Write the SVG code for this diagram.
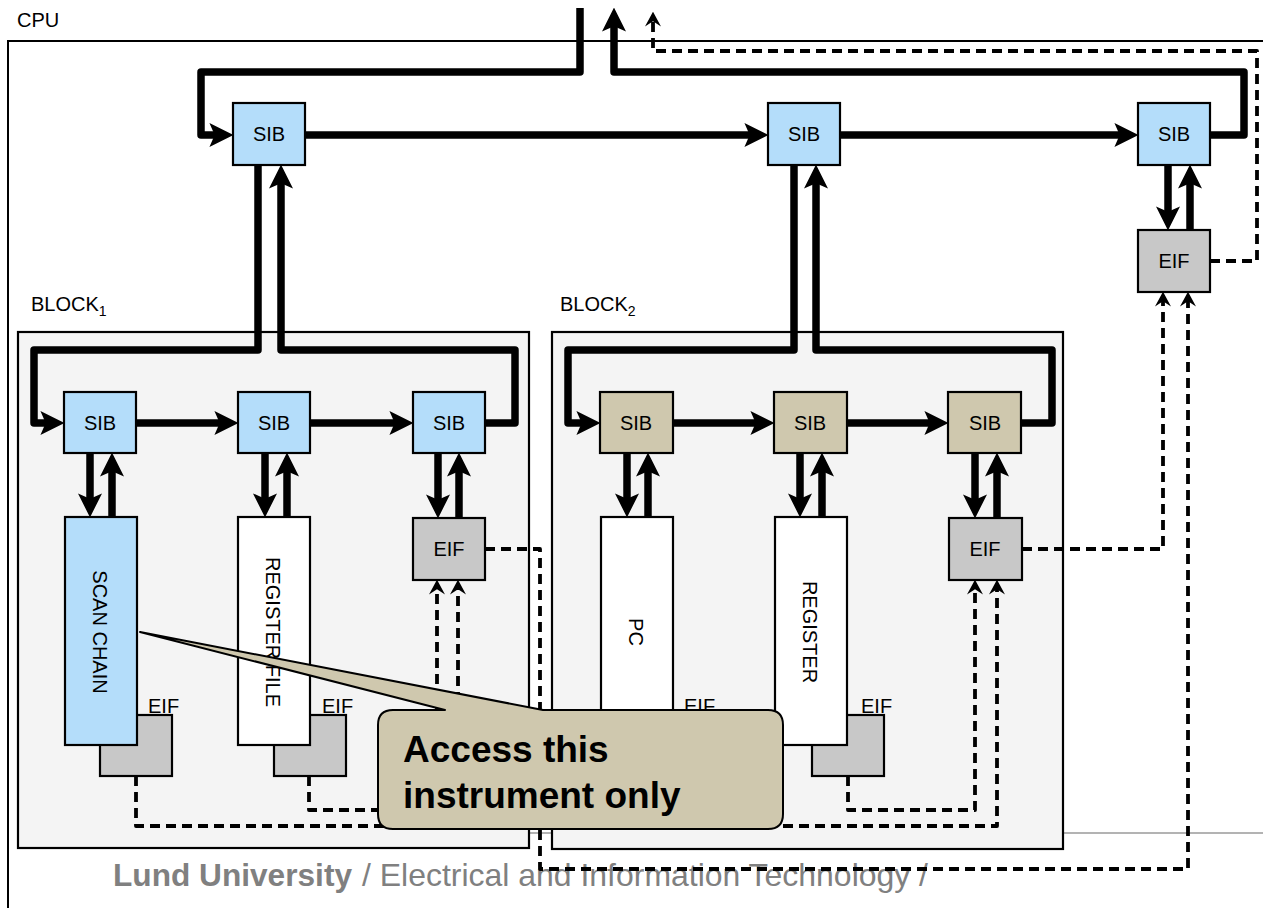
<svg xmlns="http://www.w3.org/2000/svg" width="1263" height="908" viewBox="0 0 1263 908">
<style>
text{font-family:"Liberation Sans",Arial,sans-serif;fill:#000}
.lbl{font-size:20px}
.c{text-anchor:middle}
.box{stroke:#000;stroke-width:2.2}
.blue{fill:#b4ddfa}
.tan{fill:#cfc8ae}
.gray{fill:#c8c8c8}
.white{fill:#fff}
.blk{fill:#f4f4f4;stroke:#000;stroke-width:2.2}
.bus{fill:none;stroke:#000;stroke-width:7.5;stroke-linejoin:round}
.arr{marker-end:url(#ah)}
.dash{fill:none;stroke:#000;stroke-width:3.8;stroke-dasharray:10 6;stroke-linejoin:round}
.darr{marker-end:url(#dh)}
.foot{font-size:32px;fill:#808080}
</style>
<defs>
<marker id="ah" markerUnits="userSpaceOnUse" markerWidth="24" markerHeight="24" viewBox="0 0 23 23" refX="13" refY="11.5" orient="auto"><path d="M0,0 L23,11.5 L0,23 L5,11.5 Z" fill="#000"/></marker>
<marker id="dh" markerUnits="userSpaceOnUse" markerWidth="15" markerHeight="16" viewBox="0 0 14 15" refX="9" refY="7.5" orient="auto"><path d="M0,0 L14,7.5 L0,15 L5,7.5 Z" fill="#000"/></marker>
</defs>
<rect width="1263" height="908" fill="#fff"/>

<g id="cpu">
<text class="lbl" x="17" y="27">CPU</text>
<path d="M8,908 V41 H1263" fill="none" stroke="#000" stroke-width="2"/>
</g>
<line x1="529" y1="833" x2="1263" y2="833" stroke="#b3b3b3" stroke-width="2"/>

<g id="block1">
<rect class="blk" x="18" y="332" width="511" height="516"/>
<text class="lbl" x="31" y="311">BLOCK<tspan font-size="14" dy="5">1</tspan></text>
</g>
<g id="block2">
<rect class="blk" x="552" y="332" width="511" height="517"/>
<text class="lbl" x="560" y="311">BLOCK<tspan font-size="14" dy="5">2</tspan></text>
</g>

<g id="eif-scan">
<rect class="box gray" x="100" y="715" width="72" height="61"/>
<text class="lbl" x="148" y="713">EIF</text>
</g>
<g id="eif-regfile">
<rect class="box gray" x="274" y="715" width="72" height="61"/>
<text class="lbl" x="322" y="713">EIF</text>
</g>
<g id="eif-pc">
<rect class="box gray" x="637" y="715" width="72" height="61"/>
<text class="lbl" x="684" y="713">EIF</text>
</g>
<g id="eif-register">
<rect class="box gray" x="812" y="715" width="72" height="61"/>
<text class="lbl" x="861" y="713">EIF</text>
</g>

<g id="scan-chain">
<rect class="box blue" x="65" y="517" width="72" height="228"/>
<text class="lbl c" transform="translate(93,632) rotate(90)">SCAN CHAIN</text>
</g>
<g id="register-file">
<rect class="box white" x="238" y="517" width="72" height="228"/>
<text class="lbl c" transform="translate(266,632) rotate(90)">REGISTER FILE</text>
</g>
<g id="pc">
<rect class="box white" x="601" y="517" width="72" height="228"/>
<text class="lbl c" transform="translate(629,632) rotate(90)">PC</text>
</g>
<g id="register">
<rect class="box white" x="775" y="517" width="72" height="228"/>
<text class="lbl c" transform="translate(803,632) rotate(90)">REGISTER</text>
</g>

<g id="sib-top1"><rect class="box blue" x="233" y="103" width="72" height="62"/><text class="lbl c" x="269" y="141">SIB</text></g>
<g id="sib-top2"><rect class="box blue" x="768" y="103" width="72" height="62"/><text class="lbl c" x="804" y="141">SIB</text></g>
<g id="sib-top3"><rect class="box blue" x="1138" y="103" width="72" height="62"/><text class="lbl c" x="1174" y="141">SIB</text></g>
<g id="eif-top"><rect class="box gray" x="1138" y="230" width="72" height="62"/><text class="lbl c" x="1174" y="268">EIF</text></g>

<g id="sib-b1a"><rect class="box blue" x="64" y="392" width="72" height="61"/><text class="lbl c" x="100" y="430">SIB</text></g>
<g id="sib-b1b"><rect class="box blue" x="238" y="392" width="72" height="61"/><text class="lbl c" x="274" y="430">SIB</text></g>
<g id="sib-b1c"><rect class="box blue" x="413" y="392" width="72" height="61"/><text class="lbl c" x="449" y="430">SIB</text></g>
<g id="eif-b1"><rect class="box gray" x="413" y="518" width="72" height="62"/><text class="lbl c" x="449" y="556">EIF</text></g>

<g id="sib-b2a"><rect class="box tan" x="600" y="392" width="73" height="61"/><text class="lbl c" x="636" y="430">SIB</text></g>
<g id="sib-b2b"><rect class="box tan" x="774" y="392" width="73" height="61"/><text class="lbl c" x="810" y="430">SIB</text></g>
<g id="sib-b2c"><rect class="box tan" x="948" y="392" width="73" height="61"/><text class="lbl c" x="985" y="430">SIB</text></g>
<g id="eif-b2"><rect class="box gray" x="949" y="518" width="73" height="62"/><text class="lbl c" x="985" y="556">EIF</text></g>

<g id="footer">
<text class="foot" x="113" y="886" font-weight="bold" textLength="239" lengthAdjust="spacingAndGlyphs">Lund University</text>
<text class="foot" x="362" y="886" textLength="566" lengthAdjust="spacingAndGlyphs">/ Electrical and Information Technology /</text>
</g>

<g id="connectors">
<path class="bus arr" d="M580,8 V72 H201 V135 H223"/>
<path class="bus arr" d="M1210,135 H1244 V72 H614 V18"/>
<path class="bus arr" d="M305,135 H758"/>
<path class="bus arr" d="M840,135 H1128"/>
<path class="bus arr" d="M258,165 V350 H34 V423 H54"/>
<path class="bus arr" d="M485,423 H515 V350 H281 V175"/>
<path class="bus arr" d="M794,165 V350 H568 V423 H590"/>
<path class="bus arr" d="M1021,423 H1052 V350 H816 V175"/>
<path class="bus arr" d="M136,423 H228"/>
<path class="bus arr" d="M310,423 H403"/>
<path class="bus arr" d="M673,423 H764"/>
<path class="bus arr" d="M847,423 H938"/>
<path class="bus arr" d="M90,453 V507"/>
<path class="bus arr" d="M112,517 V463"/>
<path class="bus arr" d="M265,453 V507"/>
<path class="bus arr" d="M287,517 V463"/>
<path class="bus arr" d="M438,453 V508"/>
<path class="bus arr" d="M459,518 V463"/>
<path class="bus arr" d="M627,453 V507"/>
<path class="bus arr" d="M648,517 V463"/>
<path class="bus arr" d="M800,453 V507"/>
<path class="bus arr" d="M822,517 V463"/>
<path class="bus arr" d="M975,453 V508"/>
<path class="bus arr" d="M997,518 V463"/>
<path class="bus arr" d="M1168,165 V220"/>
<path class="bus arr" d="M1190,230 V175"/>
<path class="dash darr" d="M1210,261 H1257 V51 H653 V17"/>
<path class="dash darr" d="M485,549 H540 V869 H1188 V297"/>
<path class="dash darr" d="M1022,549 H1163 V297"/>
<path class="dash darr" d="M136,776 V826 H458 V585"/>
<path class="dash darr" d="M309,776 V810 H437 V585"/>
<path class="dash darr" d="M673,776 V826 H997 V585"/>
<path class="dash darr" d="M848,776 V810 H975 V585"/>
</g>

<g id="callout">
<path d="M393,710 H445 L140,632 L543,710 H768 Q783,710 783,725 V814 Q783,829 768,829 H393 Q378,829 378,814 V725 Q378,710 393,710 Z" fill="#cfc8ae" stroke="#000" stroke-width="2" stroke-linejoin="round"/>
<text x="403" y="762" font-size="37" font-weight="bold">Access this</text>
<text x="403" y="808" font-size="37" font-weight="bold">instrument only</text>
</g>
</svg>
